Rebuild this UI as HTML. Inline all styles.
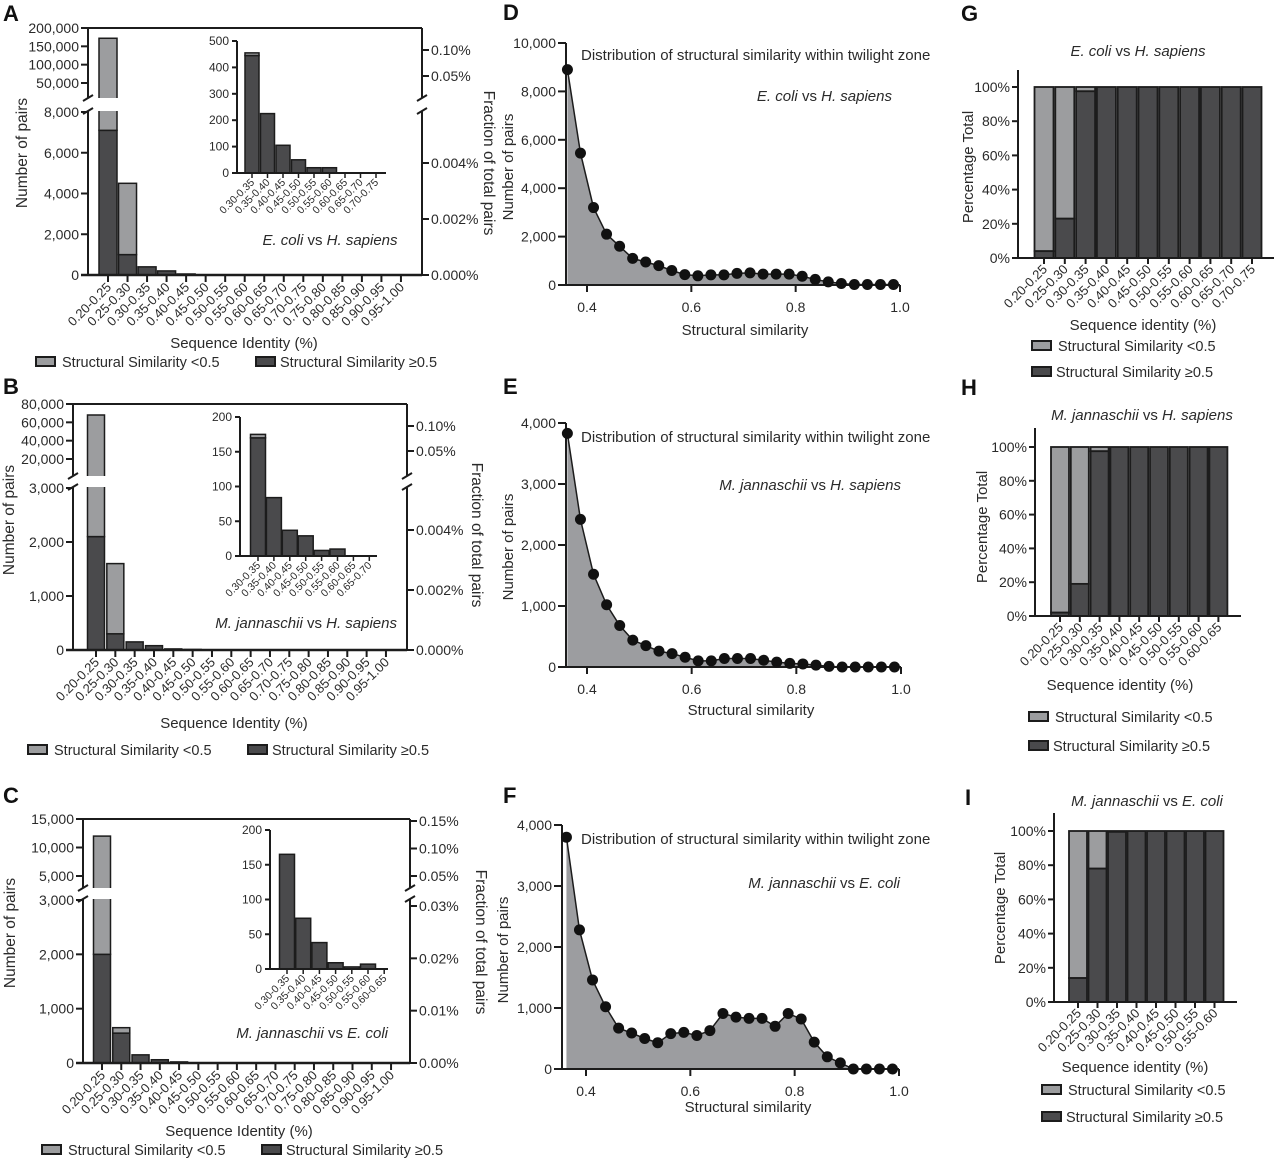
<!DOCTYPE html>
<html><head><meta charset="utf-8"><style>
html,body{margin:0;padding:0;background:#fff;}
svg{display:block;font-family:"Liberation Sans",Arial,sans-serif;fill:#2a2a2a;}
</style></head><body>
<svg id="fig" width="1280" height="1163" viewBox="0 0 1280 1163" xmlns="http://www.w3.org/2000/svg"></svg>
<script>
// ---------- DATA ----------
const histCats = ["0.20-0.25","0.25-0.30","0.30-0.35","0.35-0.40","0.40-0.45","0.45-0.50","0.50-0.55","0.55-0.60","0.60-0.65","0.65-0.70","0.70-0.75","0.75-0.80","0.80-0.85","0.85-0.90","0.90-0.95","0.95-1.00"];
const aTotal = [172000,4500,400,200,50,0,0,0,0,0,0,0,0,0,0,0];
const aDark  = [7100,1000,400,200,50,0,0,0,0,0,0,0,0,0,0,0];
const bTotal = [68000,1600,150,80,20,10,0,0,0,0,0,0,0,0,0,0];
const bDark  = [2100,300,150,80,20,10,0,0,0,0,0,0,0,0,0,0];
const cTotal = [12000,650,150,60,20,0,0,0,0,0,0,0,0,0,0,0];
const cDark  = [2000,550,150,60,20,0,0,0,0,0,0,0,0,0,0,0];
const insetCatsA = ["0.30-0.35","0.35-0.40","0.40-0.45","0.45-0.50","0.50-0.55","0.55-0.60","0.60-0.65","0.65-0.70","0.70-0.75"];
const insetATotal = [455,225,105,50,20,20,0,0,0];
const insetADark  = [445,225,105,50,20,20,0,0,0];
const insetCatsB = ["0.30-0.35","0.35-0.40","0.40-0.45","0.45-0.50","0.50-0.55","0.55-0.60","0.60-0.65","0.65-0.70"];
const insetBTotal = [175,84,37,29,8,10,0,0];
const insetBDark  = [170,84,37,29,8,10,0,0];
const insetCatsC = ["0.30-0.35","0.35-0.40","0.40-0.45","0.45-0.50","0.50-0.55","0.55-0.60","0.60-0.65"];
const insetCTotal = [165,73,38,9,3,7,0];
const insetCDark  = [165,73,38,9,3,7,0];
const rTicksAB = [0,0.002,0.004,0.05,0.10];
const rLabelsAB = ["0.000%","0.002%","0.004%","0.05%","0.10%"];
const rTicksC = [0,0.01,0.02,0.03,0.05,0.10,0.15];
const rLabelsC = ["0.00%","0.01%","0.02%","0.03%","0.05%","0.10%","0.15%"];
const simX = [0.3625,0.3875,0.4125,0.4375,0.4625,0.4875,0.5125,0.5375,0.5625,0.5875,0.6125,0.6375,0.6625,0.6875,0.7125,0.7375,0.7625,0.7875,0.8125,0.8375,0.8625,0.8875,0.9125,0.9375,0.9625,0.9875];
const dVals = [8900,5450,3200,2100,1600,1100,950,800,600,430,380,420,420,480,500,450,450,450,360,230,130,60,20,20,20,20];
const eVals = [3830,2420,1520,1020,680,440,350,260,220,160,100,100,140,140,140,110,80,60,50,30,10,0,0,0,0,0];
const fVals = [3800,2280,1460,1020,670,590,500,430,580,600,550,630,910,850,830,830,700,910,820,440,200,100,0,0,0,0];
const gCats = ["0.20-0.25","0.25-0.30","0.30-0.35","0.35-0.40","0.40-0.45","0.45-0.50","0.50-0.55","0.55-0.60","0.60-0.65","0.65-0.70","0.70-0.75"];
const gDarkPct = [4,23,97.5,100,100,100,100,100,100,100,100];
const hCats = ["0.20-0.25","0.25-0.30","0.30-0.35","0.35-0.40","0.40-0.45","0.45-0.50","0.50-0.55","0.55-0.60","0.60-0.65"];
const hDarkPct = [2,19,97.5,100,100,100,100,100,100];
const iCats = ["0.20-0.25","0.25-0.30","0.30-0.35","0.35-0.40","0.40-0.45","0.45-0.50","0.50-0.55","0.55-0.60"];
const iDarkPct = [14,78,99.5,100,100,100,100,100];
const pctTicks = [0,20,40,60,80,100];

// ---------- HELPERS ----------
const NS='http://www.w3.org/2000/svg';
const svg=document.getElementById('fig');
const LIGHT='#9c9d9f', DARK='#4a4a4c', INK='#1c1c1c';
function mk(tag,attrs,parent){const e=document.createElementNS(NS,tag);for(const k in attrs)e.setAttribute(k,attrs[k]);(parent||svg).appendChild(e);return e;}
function line(x1,y1,x2,y2,w){return mk('line',{x1:x1,y1:y1,x2:x2,y2:y2,stroke:INK,'stroke-width':w||2});}
function txt(x,y,s,size,anchor,extra){const t=mk('text',Object.assign({x:x,y:y,'font-size':size,'text-anchor':anchor||'start'},extra||{}));t.textContent=s;return t;}
function fmt(v){return v.toLocaleString('en-US');}
function italicLabel(x,y,parts,anchor,size){
  const t=mk('text',{x:x,y:y,'font-size':size||15,'text-anchor':anchor});
  
  
  parts.forEach(p=>{const s=mk('tspan',p[1]?{'font-style':'italic'}:{},t);s.textContent=p[0];});
}
function letter(x,y,s){const t=txt(x,y,s,22,'start',{'font-weight':'bold',fill:'#111'});
  
  }
function legend(x,y,size){
  const r1=mk('rect',{x:x,y:y-5,width:19,height:9,fill:LIGHT,stroke:INK,'stroke-width':2});
  
  
  const t1=txt(x+26,y+5,'Structural Similarity <0.5',size||14.5);
  
  
}
function legend2(x,y,size){
  const r2=mk('rect',{x:x,y:y-5,width:19,height:9,fill:DARK,stroke:INK,'stroke-width':2});
  
  
  const t2=txt(x+24,y+5,'Structural Similarity \u22650.5',size||14.5);
  
  
}
function rotLabel(x,y,s,size,angle){const t=mk('text',{x:0,y:0,'font-size':size,'text-anchor':'middle',transform:`translate(${x},${y}) rotate(${angle})`});t.textContent=s;return t;}
function catLabel(x,y,s,size){const t=mk('text',{x:0,y:0,'font-size':size,'text-anchor':'end',transform:`translate(${x},${y}) rotate(-45)`});t.textContent=s;
  
  }

// ---------- BROKEN-AXIS HISTOGRAM ----------
function drawHist(c,cats,totals,darks,rTicks,rLabels){
  const yS=v=> v<=c.lowMax ? c.bottom-v/c.lowMax*(c.bottom-c.lowTop) : c.uA[1]+(v-c.uA[0])*(c.uB[1]-c.uA[1])/(c.uB[0]-c.uA[0]);
  const xS=i=>c.x0+i*c.step;
  cats.forEach((cat,i)=>{
    if(totals[i]<=0)return;
    const x=xS(i)-c.bw/2;
    const d=mk('rect',{x:x,y:yS(darks[i]),width:c.bw,height:c.bottom-yS(darks[i]),fill:DARK,stroke:INK,'stroke-width':1.5});
    
    
    if(totals[i]>darks[i]){
      const l=mk('rect',{x:x,y:yS(totals[i]),width:c.bw,height:yS(darks[i])-yS(totals[i]),fill:LIGHT,stroke:INK,'stroke-width':1.5});
      
      
    }
    if(totals[i]>c.lowMax){mk('rect',{x:x-2,y:c.gap[0],width:c.bw+4,height:c.gap[1]-c.gap[0],fill:'#fff'});}
  });
  line(c.left,c.top,c.right,c.top);
  line(c.left,c.top,c.left,c.gap[0]); line(c.left,c.gap[1],c.left,c.bottom);
  line(c.right,c.top,c.right,c.gap[0]); line(c.right,c.gap[1],c.right,c.bottom);
  [c.left,c.right].forEach(ax=>{line(ax-5,c.gap[0]+3,ax+5,c.gap[0]-3,2);line(ax-5,c.gap[1]+3,ax+5,c.gap[1]-3,2);});
  const xa=line(c.left-7,c.bottom,c.right,c.bottom,2.5);
  
  
  cats.forEach((cat,i)=>{line(xS(i),c.bottom,xS(i),c.bottom+7,2);catLabel(xS(i)+4,c.bottom+13,cat,13);});
  c.lTicks.forEach(v=>{const y=yS(v);line(c.left-7,y,c.left,y);const t=txt(c.left-9,y+5,fmt(v),14,'end');
    
    });
  const rS=v=> v<=c.rLow[0] ? c.bottom-v/c.rLow[0]*(c.bottom-c.rLow[1]) : c.rUA[1]+(v-c.rUA[0])*(c.rUB[1]-c.rUA[1])/(c.rUB[0]-c.rUA[0]);
  rTicks.forEach((v,i)=>{const y=rS(v);line(c.right,y,c.right+7,y);const t=txt(c.right+9,y+5,rLabels[i],14,'start');
    
    });
  const yt=rotLabel(c.yTitle[0],c.yTitle[1],'Number of pairs',15.5,-90);
  
  
  const rt=rotLabel(c.rTitle[0],c.rTitle[1],'Fraction of total pairs',15.5,90);
  
  
  const xt=txt(c.xTitle[0],c.xTitle[1],'Sequence Identity (%)',15,'middle');
  
  
}
function drawInset(c,cats,totals,darks){
  const yS=v=>c.zero-v/c.max*(c.zero-c.topPx);
  const xS=i=>c.x0+i*c.step;
  cats.forEach((cat,i)=>{
    if(totals[i]<=0)return;
    const x=xS(i)-c.bw/2;
    const d=mk('rect',{x:x,y:yS(darks[i]),width:c.bw,height:c.zero-yS(darks[i]),fill:DARK,stroke:INK,'stroke-width':1.5});
    
    
    if(totals[i]>darks[i]){const l=mk('rect',{x:x,y:yS(totals[i]),width:c.bw,height:yS(darks[i])-yS(totals[i]),fill:LIGHT,stroke:INK,'stroke-width':1.5});
      
      }
  });
  line(c.axisX,c.topPx,c.axisX,c.zero);
  line(c.axisX,c.zero,c.end,c.zero);
  c.ticks.forEach(v=>{const y=yS(v);line(c.axisX-5,y,c.axisX,y);txt(c.axisX-8,y+4,String(v),12,'end');});
  cats.forEach((cat,i)=>{line(xS(i),c.zero,xS(i),c.zero+5,1.5);catLabel(xS(i)+3,c.zero+10,cat,10.5);});
}

// ---------- LINE/AREA PLOTS ----------
function drawArea(c,xs,vals){
  const xS=v=>c.x04+(v-0.4)*(c.x10-c.x04)/0.6;
  const yS=v=>c.zero-v/c.max*(c.zero-c.topPx);
  let d=`M${xS(xs[0])},${c.zero}`;xs.forEach((x,i)=>{d+=` L${xS(x)},${yS(vals[i])}`;});d+=` L${xS(xs[xs.length-1])},${c.zero} Z`;
  const a=mk('path',{d:d,fill:'#9c9da0',stroke:'none'});
  
  
  let p='';xs.forEach((x,i)=>{p+=(i?' L':'M')+xS(x)+','+yS(vals[i]);});
  const l=mk('path',{d:p,fill:'none',stroke:INK,'stroke-width':1.5});
  
  
  line(c.axisX,c.topPx,c.axisX,c.zero);
  line(c.axisX-8,c.zero,c.x10,c.zero);
  c.yTicks.forEach(v=>{const y=yS(v);line(c.axisX-8,y,c.axisX,y);txt(c.axisX-10,y+5,fmt(v),14,'end');});
  [0.4,0.6,0.8,1.0].forEach(v=>{const x=xS(v);line(x,c.zero,x,c.zero+7);const t=txt(x,c.zero+27,v.toFixed(1),14,'middle');
    
    });
  xs.forEach((x,i)=>{const pt=mk('circle',{cx:xS(x),cy:yS(vals[i]),r:5.5,fill:'#111'});
    
    });
  const xt=txt(c.xTitle[0],c.xTitle[1],'Structural similarity',15,'middle');
  
  
  const yt=rotLabel(c.yTitle[0],c.yTitle[1],'Number of pairs',15,-90);
  
  
  const tt=txt(581,c.titleY,'Distribution of structural similarity within twilight zone',15);
  
  
}

// ---------- STACKED PERCENT ----------
function drawPct(c,cats,dark){
  const yS=v=>c.zero-v/100*(c.zero-c.y100);
  const xS=i=>c.x0+i*c.step;
  cats.forEach((cat,i)=>{
    const x=xS(i)-c.bw/2;
    if(dark[i]<100){const l=mk('rect',{x:x,y:yS(100),width:c.bw,height:yS(dark[i])-yS(100),fill:LIGHT,stroke:INK,'stroke-width':1.8});
      
      }
    const d=mk('rect',{x:x,y:yS(dark[i]),width:c.bw,height:c.zero-yS(dark[i]),fill:DARK,stroke:INK,'stroke-width':1.8});
    
    
  });
  line(c.axisX,c.axisTop,c.axisX,c.zero);
  line(c.axisX,c.zero,c.end,c.zero);
  pctTicks.forEach(v=>{const y=yS(v);line(c.axisX-6,y,c.axisX,y);txt(c.axisX-8,y+5,v+'%',14,'end');});
  cats.forEach((cat,i)=>{line(xS(i),c.zero,xS(i),c.zero+6);catLabel(xS(i)+4,c.zero+12,cat,13);});
  const yt=rotLabel(c.yTitle[0],c.yTitle[1],'Percentage Total',15,-90);
  
  
  const xt=txt(c.xTitle[0],c.xTitle[1],'Sequence identity (%)',15,'middle');
  
  
}

// ---------- PANEL A ----------
letter(3,21,'A');
drawHist({left:88,right:422,top:28,bottom:275,lowMax:8000,lowTop:112,uA:[200000,28],uB:[50000,83],gap:[98,111],
  x0:108,step:19.53,bw:18,lTicks:[0,2000,4000,6000,8000,50000,100000,150000,200000],
  rLow:[0.004,163],rUA:[0.05,76],rUB:[0.10,50],
  yTitle:[27,153],rTitle:[484,163],xTitle:[244,348]},histCats,aTotal,aDark,rTicksAB,rLabelsAB);
drawInset({axisX:237,zero:173,topPx:41,max:500,end:386,x0:252,step:15.5,bw:14,ticks:[0,100,200,300,400,500]},insetCatsA,insetATotal,insetADark);
italicLabel(330,245,[['E. coli',1],[' vs ',0],['H. sapiens',1]],'middle');
legend(36,362);legend2(256,362);

// ---------- PANEL B ----------
letter(3,394,'B');
drawHist({left:73,right:407,top:404,bottom:650,lowMax:3000,lowTop:488,uA:[80000,404],uB:[20000,459],gap:[476,487],
  x0:96,step:19.33,bw:17,lTicks:[0,1000,2000,3000,20000,40000,60000,80000],
  rLow:[0.004,530],rUA:[0.05,451],rUB:[0.10,426],
  yTitle:[14,520],rTitle:[472,535],xTitle:[234,728]},histCats,bTotal,bDark,rTicksAB,rLabelsAB);
drawInset({axisX:240,zero:556,topPx:417,max:200,end:377,x0:258,step:15.9,bw:15,ticks:[0,50,100,150,200]},insetCatsB,insetBTotal,insetBDark);
italicLabel(397,628,[['M. jannaschii',1],[' vs ',0],['H. sapiens',1]],'end');
legend(28,750);legend2(248,750);

// ---------- PANEL C ----------
letter(3,803,'C');
drawHist({left:83,right:410,top:819,bottom:1063,lowMax:3000,lowTop:900,uA:[15000,819],uB:[5000,876],gap:[888,899],
  x0:102,step:19.27,bw:17,lTicks:[0,1000,2000,3000,5000,10000,15000],
  rLow:[0.03,906],rUA:[0.05,876],rUB:[0.15,821],
  yTitle:[15,933],rTitle:[476,942],xTitle:[239,1136]},histCats,cTotal,cDark,rTicksC,rLabelsC);
drawInset({axisX:270,zero:969,topPx:830,max:200,end:388,x0:287,step:16.2,bw:15,ticks:[0,50,100,150,200]},insetCatsC,insetCTotal,insetCDark);
italicLabel(388,1038,[['M. jannaschii',1],[' vs ',0],['E. coli',1]],'end');
legend(42,1150);legend2(262,1150);

// ---------- PANELS D/E/F ----------
letter(503,20,'D');
drawArea({axisX:566,x04:587,x10:900,zero:285,topPx:43,max:10000,yTicks:[0,2000,4000,6000,8000,10000],xTitle:[745,335],yTitle:[513,167],titleY:60},simX,dVals);
italicLabel(892,101,[['E. coli',1],[' vs ',0],['H. sapiens',1]],'end');
letter(503,394,'E');
drawArea({axisX:566,x04:587,x10:901,zero:667,topPx:423,max:4000,yTicks:[0,1000,2000,3000,4000],xTitle:[751,715],yTitle:[513,547],titleY:442},simX,eVals);
italicLabel(901,490,[['M. jannaschii',1],[' vs ',0],['H. sapiens',1]],'end');
letter(503,803,'F');
drawArea({axisX:562,x04:586,x10:899,zero:1069,topPx:825,max:4000,yTicks:[0,1000,2000,3000,4000],xTitle:[748,1112],yTitle:[508,950],titleY:844},simX,fVals);
italicLabel(900,888,[['M. jannaschii',1],[' vs ',0],['E. coli',1]],'end');

// ---------- PANELS G/H/I ----------
letter(961,21,'G');
italicLabel(1138,56,[['E. coli',1],[' vs ',0],['H. sapiens',1]],'middle');
drawPct({axisX:1018,axisTop:70,zero:258,y100:87,end:1274,x0:1044,step:20.8,bw:19,yTitle:[973,167],xTitle:[1143,330]},gCats,gDarkPct);
legend(1032,346);legend2(1032,372);
letter(961,395,'H');
italicLabel(1142,420,[['M. jannaschii',1],[' vs ',0],['H. sapiens',1]],'middle');
drawPct({axisX:1035,axisTop:428,zero:616,y100:447,end:1241,x0:1060,step:19.8,bw:18,yTitle:[987,527],xTitle:[1120,690]},hCats,hDarkPct);
legend(1029,717);legend2(1029,746);
letter(965,805,'I');
italicLabel(1147,806,[['M. jannaschii',1],[' vs ',0],['E. coli',1]],'middle');
drawPct({axisX:1054,axisTop:813,zero:1002,y100:831,end:1237,x0:1078,step:19.5,bw:18,yTitle:[1005,908],xTitle:[1135,1072]},iCats,iDarkPct);
legend(1042,1090);legend2(1042,1117);
</script>
</body></html>
